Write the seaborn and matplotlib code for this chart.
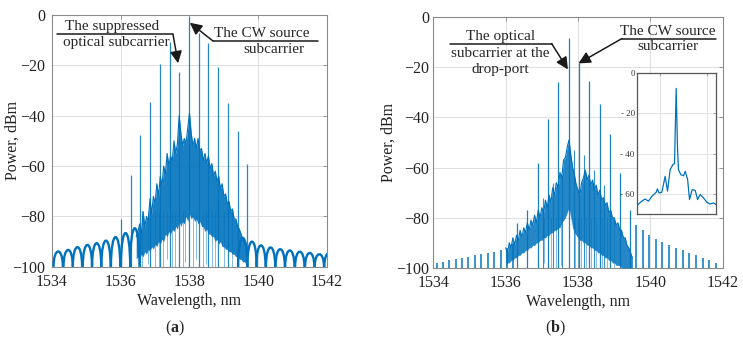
import numpy as np
import pandas as pd
import matplotlib
matplotlib.use("Agg")
import matplotlib.pyplot as plt
import seaborn as sns
from matplotlib.path import Path
from matplotlib.patches import PathPatch

# ---------------- data ----------------
wl_ticks = [1534, 1536, 1538, 1540, 1542]
pw_ticks = [0, -20, -40, -60, -80, -100]

# panel (a): comb lines
a_comb_wl = [1536.00, 1536.29, 1536.57, 1536.86, 1537.15, 1537.43, 1537.70,
             1538.00, 1538.27, 1538.55, 1538.84, 1539.12, 1539.40, 1539.68]
a_comb_pw = [-81, -63.5, -47.6, -34.4, -19.5, -10.6, -22.5,
             -1, -7, -11, -20.5, -35, -46, -59]
# panel (a): side-lobe arches (peak wavelength, peak level)
a_lobe_wl = [1534.18, 1534.47, 1534.74, 1535.03, 1535.30, 1535.57, 1535.85,
             1536.14, 1536.41,
             1539.55, 1539.82, 1540.08, 1540.36, 1540.64, 1540.92, 1541.21,
             1541.50, 1541.78, 1542.06]
a_lobe_pw = [-93.9, -93.3, -92.2, -91.3, -90.6, -89.6, -88.2, -86.6, -84.7,
             -88.5, -90.0, -91.5, -92.3, -93.0, -93.5, -94.0, -94.5, -95.0, -94.5]
# panel (a): noise band envelopes
a_band_wl = [1536.45, 1536.50,
             1536.55, 1536.60, 1536.65, 1536.70, 1536.75, 1536.80, 1536.85, 1536.90, 1536.95, 1537.00,
             1537.05, 1537.10, 1537.15, 1537.20, 1537.25, 1537.30, 1537.35, 1537.40, 1537.45, 1537.50,
             1537.55, 1537.60, 1537.65, 1537.70, 1537.75, 1537.80, 1537.85, 1537.90, 1537.95, 1538.00,
             1538.05, 1538.10, 1538.15, 1538.20, 1538.25, 1538.30, 1538.35, 1538.40, 1538.45, 1538.50,
             1538.55, 1538.60, 1538.65, 1538.70, 1538.75, 1538.80, 1538.85, 1538.90, 1538.95, 1539.00,
             1539.05, 1539.10, 1539.15, 1539.20, 1539.25, 1539.30, 1539.35, 1539.40, 1539.45, 1539.50,
             1539.55, 1539.60, 1539.65]
a_band_hi = [-88, -86,
             -83, -87, -78, -84, -80, -82, -73, -79, -72, -75,
             -67, -72, -64, -68, -60, -63, -55, -60, -56, -58,
             -50, -55, -51, -40, -47, -52, -49, -51, -45, -39,
             -47, -52, -49, -53, -49, -54, -53, -58, -55, -59,
             -56, -61, -59, -64, -62, -66, -64, -69, -67, -72,
             -71, -75, -74, -78, -77, -81, -81, -84, -85, -87,
             -89, -90, -91]
a_band_lo = [-97, -96,
             -97, -95, -96, -94, -95, -93, -94, -92, -93, -91,
             -92, -90, -91, -89, -90, -87, -88, -86, -87, -85,
             -86, -84, -85, -82, -84, -82, -83, -80, -82, -79,
             -81, -80, -82, -81, -83, -82, -84, -84, -86, -85,
             -87, -87, -88, -88, -90, -89, -91, -90, -92, -92,
             -93, -93, -94, -94, -95, -95, -96, -96, -97, -97,
             -98, -98, -99]
# panel (a): deep dips below the band
a_dip_wl = [1536.62, 1536.80, 1537.00, 1537.10, 1537.24, 1537.35, 1537.50, 1537.58,
            1537.80, 1537.88, 1538.10, 1538.20, 1538.38, 1538.48, 1538.65,
            1538.75, 1539.00, 1539.25]
a_dip_pw = [-100, -99, -100, -100, -100, -97, -100, -100, -100, -98, -100, -97,
            -100, -99, -100, -100, -100, -100]

# panel (b): comb lines
b_comb_wl = [1536.31, 1536.59, 1536.89, 1537.18, 1537.46, 1537.74, 1538.03,
             1538.31, 1538.60, 1538.88, 1539.16, 1539.43]
b_comb_pw = [-82, -77, -58, -40.5, -26, -8.2, -18.5, -25.5, -34.8, -46.7, -62.3, -77]
# panel (b): weak comb lines outside the band
b_small_wl = [1534.10, 1534.28, 1534.45, 1534.62, 1534.79, 1534.97, 1535.15,
              1535.32, 1535.50, 1535.68, 1535.86, 1536.03, 1536.21,
              1539.61, 1539.78, 1539.97, 1540.15, 1540.33, 1540.51, 1540.70,
              1540.89, 1541.07, 1541.25, 1541.44, 1541.62, 1541.82]
b_small_pw = [-98, -97.5, -97, -96.5, -96, -95.5, -95, -94.5, -94, -93.5, -93,
              -92, -90.5,
              -83, -85, -87, -88.5, -89.5, -91, -92, -93, -94, -95, -96, -97, -98]
# panel (b): secondary lines inside the band
b_sub_wl = [1537.02, 1537.30, 1537.57, 1537.89, 1538.17, 1538.45, 1538.72]
b_sub_pw = [-72, -66, -63, -53, -55, -61, -67]
# panel (b): noise band envelopes
b_band_wl = [1536.00, 1536.05, 1536.10, 1536.15, 1536.20, 1536.25, 1536.30, 1536.35, 1536.40, 1536.45, 1536.50,
             1536.55, 1536.60, 1536.65, 1536.70, 1536.75, 1536.80, 1536.85, 1536.90, 1536.95, 1537.00,
             1537.05, 1537.10, 1537.15, 1537.20, 1537.25, 1537.30, 1537.35, 1537.40, 1537.45, 1537.50,
             1537.55, 1537.60, 1537.65, 1537.70, 1537.75, 1537.80, 1537.85, 1537.90, 1537.95, 1538.00,
             1538.05, 1538.10, 1538.15, 1538.20, 1538.25, 1538.30, 1538.35, 1538.40, 1538.45, 1538.50,
             1538.55, 1538.60, 1538.65, 1538.70, 1538.75, 1538.80, 1538.85, 1538.90, 1538.95, 1539.00,
             1539.05, 1539.10, 1539.15, 1539.20, 1539.25, 1539.30, 1539.35, 1539.40, 1539.45, 1539.50]
b_band_hi = [-92, -94, -90, -92, -88, -91, -87, -89, -85, -88, -84,
             -86, -82, -85, -81, -83, -79, -82, -77, -80, -76,
             -78, -73, -76, -71, -74, -68, -71, -66, -68, -62,
             -64, -57, -56, -52, -49, -55, -60, -63, -67, -69,
             -71, -66, -64, -61, -65, -63, -67, -65, -69, -67,
             -71, -69, -73, -72, -75, -74, -78, -77, -80, -80,
             -83, -82, -85, -85, -88, -88, -91, -92, -94, -96]
b_band_lo = [-99, -98, -98, -97, -97, -96, -96, -95, -95, -94, -94,
             -93, -93, -92, -92, -91, -91, -90, -90, -89, -89,
             -88, -88, -87, -87, -86, -86, -85, -85, -84, -84,
             -82, -81, -80, -78, -76, -80, -84, -86, -87, -88,
             -89, -89, -90, -90, -91, -91, -92, -92, -93, -93,
             -94, -94, -95, -95, -96, -96, -97, -97, -98, -98,
             -99, -99, -99, -100, -100, -100, -100, -100, -100, -100]
b_dip_wl = [1537.05, 1537.25, 1537.40, 1537.52, 1537.92, 1538.00, 1538.08,
            1538.22, 1538.36, 1538.50, 1538.66, 1538.80, 1539.00]
b_dip_pw = [-98, -100, -100, -99, -100, -100, -100, -100, -100, -100, -100, -100, -100]

# inset (zoom around the drop-port subcarrier), relative position 0..1
inset_pos = [0, 0.063, 0.105, 0.147, 0.19, 0.244, 0.26, 0.28, 0.315, 0.357,
             0.387, 0.42, 0.454, 0.475, 0.496, 0.513, 0.525, 0.555, 0.588,
             0.61, 0.64, 0.664, 0.697, 0.735, 0.765, 0.798, 0.84, 0.882,
             0.92, 0.966, 1.0]
inset_pw = [-65.8, -63.6, -62.5, -63.6, -61.2, -59.2, -57.5, -59.5, -59.2,
            -51.3, -58.6, -48, -45.5, -45, -7.7, -38, -48, -50.5, -51, -48.8,
            -52.9, -62.8, -57.9, -58.2, -62.8, -60.3, -62, -64.1, -65, -64.5,
            -65.3]
inset_yticks = [0, -20, -40, -60]
inset_yticklabels = ["0", "- 20", "- 40", "- 60"]

# ---------------- style ----------------
sns.set_theme(style="white")
plt.rcParams["font.family"] = ["Liberation Serif", "DejaVu Serif"]
plt.rcParams["mathtext.fontset"] = "custom"
plt.rcParams["mathtext.rm"] = "Liberation Serif"
plt.rcParams["mathtext.bf"] = "Liberation Serif:bold"

BLUE = "#0072BD"
FS = 11.5
AFS = 11
GRID = "#dedede"
EDGE = "#8a8a8a"
TXT = "#222222"
ARROW = dict(arrowstyle="-|>", color="k", lw=1.1, mutation_scale=18,
             shrinkA=0, shrinkB=0)

fig = plt.figure(figsize=(7.43, 3.47), dpi=100)
ax_a = fig.add_axes([0.070, 0.231, 0.370, 0.726])
ax_b = fig.add_axes([0.583, 0.228, 0.390, 0.723])


def style_axes(ax, ylab_x, xlab_y, ypad):
    ax.set_xlim(1534, 1542)
    ax.set_ylim(-100, 0)
    ax.set_xticks(wl_ticks)
    ax.set_yticks(pw_ticks)
    ax.grid(True, color=GRID, lw=0.7)
    ax.set_axisbelow(True)
    for s in ax.spines.values():
        s.set_color(EDGE)
        s.set_linewidth(0.8)
    ax.tick_params(direction="in", length=3, width=0.6, color=EDGE,
                   labelsize=FS, labelcolor=TXT, top=True, right=True, pad=5)
    ax.tick_params(axis="y", pad=ypad)
    ax.set_xlabel("Wavelength, nm", fontsize=FS, color=TXT)
    ax.set_ylabel("Power, dBm", fontsize=FS, color=TXT)
    ax.xaxis.set_label_coords(0.5, xlab_y)
    ax.yaxis.set_label_coords(ylab_x, 0.5)


def draw_arches(ax, centers, tops, hw):
    for c, t in zip(centers, tops):
        yk = (t + 25) / 0.75
        verts = [(c - hw, -100), (c - hw, yk), (c + hw, yk), (c + hw, -100)]
        codes = [Path.MOVETO, Path.CURVE4, Path.CURVE4, Path.CURVE4]
        ax.add_patch(PathPatch(Path(verts, codes), fill=False, ec=BLUE, lw=1.7,
                               zorder=3))


# ---------- panel (a) ----------
ax_a.vlines(a_dip_wl, a_dip_pw, -78, color=BLUE, lw=0.6, alpha=0.55, zorder=2)
ax_a.fill_between(a_band_wl, a_band_lo, a_band_hi, color=BLUE, alpha=0.9,
                  lw=0, zorder=3)
sns.lineplot(x=a_band_wl, y=a_band_hi, ax=ax_a, color=BLUE, lw=0.8, zorder=3)
draw_arches(ax_a, a_lobe_wl, a_lobe_pw, 0.135)
ax_a.vlines(a_comb_wl, -100, a_comb_pw, color=BLUE, lw=0.9, alpha=0.85, zorder=4)
style_axes(ax_a, -0.115, -0.105, 5)

ax_a.text(1535.75, -4.4, "The suppressed", fontsize=AFS, ha="center", va="center", zorder=6)
ax_a.text(1535.88, -11.1, "optical subcarrier", fontsize=AFS, ha="center", va="center", zorder=6)
ax_a.plot([1534.15, 1537.52], [-7.7, -7.7], color="k", lw=1.1, zorder=6, clip_on=False)
ax_a.annotate("", xy=(1537.67, -19.2), xytext=(1537.52, -7.7), arrowprops=ARROW, zorder=6)
ax_a.text(1540.10, -7.3, "The CW source", fontsize=AFS, ha="center", va="center", zorder=6)
ax_a.text(1540.46, -13.9, "subcarrier", fontsize=AFS, ha="center", va="center", zorder=6)
ax_a.plot([1538.68, 1541.74], [-10.3, -10.3], color="k", lw=1.1, zorder=6, clip_on=False)
ax_a.annotate("", xy=(1538.01, -3.1), xytext=(1538.68, -10.3), arrowprops=ARROW, zorder=6)

# ---------- panel (b) ----------
ax_b.vlines(b_dip_wl, b_dip_pw, -80, color=BLUE, lw=0.6, alpha=0.55, zorder=2)
ax_b.fill_between(b_band_wl, b_band_lo, b_band_hi, color=BLUE, alpha=0.85,
                  lw=0, zorder=3)
sns.lineplot(x=b_band_wl, y=b_band_hi, ax=ax_b, color=BLUE, lw=0.8, zorder=3)
ax_b.vlines(b_small_wl, -100, b_small_pw, color=BLUE, lw=1.2, alpha=0.9, zorder=4)
ax_b.vlines(b_sub_wl, -100, b_sub_pw, color=BLUE, lw=0.8, alpha=0.8, zorder=4)
ax_b.vlines(b_comb_wl, -100, b_comb_pw, color=BLUE, lw=0.9, alpha=0.9, zorder=4)
style_axes(ax_b, -0.125, -0.105, 3)

ax_b.text(1535.85, -7.7, "The optical", fontsize=AFS, ha="center", va="center", zorder=6)
ax_b.text(1535.85, -14.5, "subcarrier at the", fontsize=AFS, ha="center", va="center", zorder=6)
ax_b.text(1535.85, -20.9, "drop-port", fontsize=AFS, ha="center", va="center", zorder=6)
ax_b.plot([1534.47, 1537.27], [-10.6, -10.6], color="k", lw=1.1, zorder=6)
ax_b.annotate("", xy=(1537.72, -20.9), xytext=(1537.27, -10.6), arrowprops=ARROW, zorder=6)
ax_b.text(1540.49, -5.6, "The CW source", fontsize=AFS, ha="center", va="center", zorder=6)
ax_b.text(1540.49, -11.9, "subcarrier", fontsize=AFS, ha="center", va="center", zorder=6)
ax_b.plot([1539.21, 1541.81], [-8.6, -8.6], color="k", lw=1.1, zorder=6)
ax_b.annotate("", xy=(1538.01, -18.5), xytext=(1539.21, -8.6), arrowprops=ARROW, zorder=6)

# ---------- inset ----------
ax_in = fig.add_axes([0.857, 0.383, 0.107, 0.407])
sns.lineplot(x=inset_pos, y=inset_pw, ax=ax_in, color=BLUE, lw=0.9)
ax_in.set_xlim(0, 1)
ax_in.set_ylim(-70, 0)
ax_in.set_yticks(inset_yticks)
ax_in.set_yticklabels(inset_yticklabels)
ax_in.set_xticks([0.29, 0.88])
ax_in.set_xticklabels([])
ax_in.grid(True, color=GRID, lw=0.6)
ax_in.set_axisbelow(True)
for s in ax_in.spines.values():
    s.set_color("#555555")
    s.set_linewidth(0.9)
ax_in.tick_params(direction="in", length=2, width=0.5, color=EDGE, labelsize=6.5,
                  labelcolor="#333333", pad=1.5, top=True, right=True)
ax_in.set_xlabel("")
ax_in.set_ylabel("")

# subplot labels
fig.text(175 / 743, 1 - 328 / 347, r"($\mathbf{a}$)", fontsize=FS, ha="center", va="center")
fig.text(555 / 743, 1 - 328 / 347, r"($\mathbf{b}$)", fontsize=FS, ha="center", va="center")

fig.savefig("out.png", dpi=100)
